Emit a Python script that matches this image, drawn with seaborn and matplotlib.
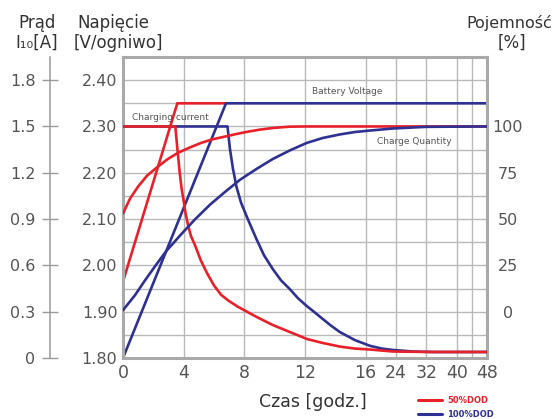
import numpy as np
import pandas as pd
import matplotlib
matplotlib.use("Agg")
import matplotlib.pyplot as plt
from matplotlib.lines import Line2D
import seaborn as sns

# ---------------- data ----------------
x_ticks = [0, 4, 8, 12, 16, 24, 32, 40, 48]
volt_ticks = [1.80, 1.90, 2.00, 2.10, 2.20, 2.30, 2.40]
cur_ticks = [0, 0.3, 0.6, 0.9, 1.2, 1.5, 1.8]
cur_labels = ["0", "0.3", "0.6", "0.9", "1.2", "1.5", "1.8"]
cap_ticks = [0, 25, 50, 75, 100]

# Battery voltage [V/cell]
red_volt_t = [0, 3.58, 6.8]
red_volt_v = [1.965, 2.35, 2.35]
blue_volt_t = [0, 6.79, 48]
blue_volt_v = [1.80, 2.35, 2.35]

# Charging current [A] - 50% DOD
red_cur_t = [0, 3.45, 3.59, 3.74, 3.86, 3.98, 4.12, 4.29, 4.48, 4.75, 5.14, 5.54,
             6.00, 6.46, 6.92, 7.52, 8.11, 8.83, 9.89, 11.01, 12.13, 13.18, 14.30,
             15.29, 17.13, 23.2, 33.0, 48]
red_cur_a = [1.50, 1.50, 1.35, 1.20, 1.10, 1.03, 0.94, 0.86, 0.79, 0.73, 0.63, 0.55,
             0.47, 0.41, 0.374, 0.335, 0.303, 0.265, 0.213, 0.168, 0.123, 0.097, 0.074,
             0.061, 0.055, 0.042, 0.039, 0.039]

# Charging current [A] - 100% DOD
blue_cur_t = [0, 6.89, 7.05, 7.25, 7.48, 7.78, 8.24, 8.81, 9.30, 9.89, 10.42, 11.01,
              11.54, 12.11, 12.66, 13.18, 13.71, 14.30, 15.29, 17.13, 20.29, 23.19,
              28.47, 33.74, 48]
blue_cur_a = [1.50, 1.50, 1.355, 1.226, 1.11, 1.007, 0.897, 0.768, 0.665, 0.574, 0.503,
              0.445, 0.387, 0.337, 0.294, 0.252, 0.210, 0.168, 0.116, 0.079, 0.061,
              0.052, 0.042, 0.039, 0.039]

# Charge quantity [%] - 50% DOD
red_cap_t = [0, 0.46, 0.99, 1.58, 2.31, 2.97, 3.63, 4.42, 5.14, 5.87, 6.70, 7.45,
             8.24, 9.03, 9.89, 11.01, 12.11, 48]
red_cap_p = [53.0, 61.0, 67.5, 73.4, 78.4, 82.5, 85.8, 88.7, 91.1, 93.0, 94.5, 95.9,
             97.2, 98.3, 99.2, 99.9, 100, 100]

# Charge quantity [%] - 100% DOD
blue_cap_t = [0, 0.79, 1.45, 2.11, 2.83, 3.76, 4.73, 5.74, 6.66, 7.71, 8.81, 9.89,
              11.01, 12.11, 13.18, 14.30, 15.29, 17.13, 23.19, 32.08, 48]
blue_cap_p = [0.8, 8.9, 16.9, 24.5, 32.5, 41.1, 49.7, 57.8, 64.2, 71.2, 77.1, 82.5,
              87.1, 91.1, 93.8, 95.7, 97.0, 97.8, 98.9, 99.8, 100]

RED = "#e8202a"
BLUE = "#2e3192"
GRID = "#b9b9b9"
FRAME = "#a9a9a9"
TXT = "#333333"
TICK = "#555555"

sns.set_style("white")
plt.rcParams["font.family"] = ["DejaVu Sans"]

W, H = 557, 419
fig = plt.figure(figsize=(W / 100, H / 100), dpi=100)


def px(x, y):
    return x / W, 1 - y / H


def fwd(t):
    t = np.asarray(t, dtype=float)
    return np.where(t <= 16, t, 16 + (t - 16) / 4.0)


def inv(u):
    u = np.asarray(u, dtype=float)
    return np.where(u <= 16, u, 16 + (u - 16) * 4.0)


ax = fig.add_axes([123 / W, 61 / H, 364 / W, 301 / H])
ax.set_xscale("function", functions=(fwd, inv))
ax.set_xlim(0, 48)
ax.set_ylim(1.80, 2.45)

ax_cur = ax.twinx()
ax_cap = ax.twinx()
ax_cur.set_ylim(0, 1.95)
ax_cap.set_ylim(-25, 137.5)

# grid on main axes
ax.set_xticks(x_ticks)
ax.set_xticklabels([str(v) for v in x_ticks])
ax.set_xticks([44], minor=True)
ax.set_yticks(volt_ticks)
ax.set_yticklabels([f"{v:.2f}" for v in volt_ticks])
ax.set_yticks([1.85, 1.95, 2.05, 2.15, 2.25, 2.35, 2.45], minor=True)
ax.grid(True, which="both", color=GRID, linewidth=1.0)
ax.set_axisbelow(True)
ax.tick_params(axis="both", which="both", length=0)
ax.tick_params(axis="y", pad=4, labelsize=11.5, labelcolor=TICK)
ax.tick_params(axis="x", pad=4, labelsize=12.5, labelcolor=TICK)
for s in ax.spines.values():
    s.set_visible(True)
    s.set_color(FRAME)
    s.set_linewidth(2.2)

LW = 1.9
# voltage lines
sns.lineplot(x=red_volt_t, y=red_volt_v, ax=ax, color=RED, linewidth=LW,
             estimator=None, sort=False, legend=False)
sns.lineplot(x=blue_volt_t, y=blue_volt_v, ax=ax, color=BLUE, linewidth=LW,
             estimator=None, sort=False, legend=False)

# current lines
sns.lineplot(x=blue_cur_t, y=blue_cur_a, ax=ax_cur, color=BLUE, linewidth=LW,
             estimator=None, sort=False, legend=False)
sns.lineplot(x=red_cur_t, y=red_cur_a, ax=ax_cur, color=RED, linewidth=LW,
             estimator=None, sort=False, legend=False)

# capacity lines
sns.lineplot(x=red_cap_t, y=red_cap_p, ax=ax_cap, color=RED, linewidth=LW,
             estimator=None, sort=False, legend=False)
sns.lineplot(x=blue_cap_t, y=blue_cap_p, ax=ax_cap, color=BLUE, linewidth=LW,
             estimator=None, sort=False, legend=False)

for line in ax.lines + ax_cur.lines + ax_cap.lines:
    line.set_solid_joinstyle("round")

ax_cur.set_ylim(0, 1.95)
ax_cap.set_ylim(-25, 137.5)
ax.set_xlim(0, 48)

# current axis (separate spine on the left)
for name, s in ax_cur.spines.items():
    s.set_visible(name == "left")
ax_cur.spines["left"].set_position(("axes", -73 / 364))
ax_cur.spines["left"].set_color("#9a9a9a")
ax_cur.spines["left"].set_linewidth(1.1)
ax_cur.yaxis.set_ticks_position("left")
ax_cur.set_yticks(cur_ticks)
ax_cur.set_yticklabels(cur_labels)
ax_cur.tick_params(axis="y", direction="inout", length=11, width=1.0,
                   color="#9a9a9a", pad=5, labelsize=11.5, labelcolor=TICK)

# capacity axis on the right
for s in ax_cap.spines.values():
    s.set_visible(False)
ax_cap.set_yticks(cap_ticks)
ax_cap.set_yticklabels([str(v) for v in cap_ticks])
ax_cap.tick_params(axis="y", length=0, pad=15, labelsize=11.5, labelcolor=TICK)
for lab in ax_cap.get_yticklabels():
    lab.set_horizontalalignment("center")

for a in (ax, ax_cur, ax_cap):
    a.set_xlabel("")
    a.set_ylabel("")

# headers
fig.text(*px(37, 23), "Prąd", ha="center", va="center", fontsize=12, color=TXT)
fig.text(*px(37, 43), "I₁₀[A]", ha="center", va="center", fontsize=12, color=TXT)
fig.text(*px(113, 23), "Napięcie", ha="center", va="center", fontsize=12, color=TXT)
fig.text(*px(118, 43), "[V/ogniwo]", ha="center", va="center", fontsize=12, color=TXT)
fig.text(*px(509, 23), "Pojemność", ha="center", va="center", fontsize=11.5, color=TXT)
fig.text(*px(512, 43), "[%]", ha="center", va="center", fontsize=12, color=TXT)
fig.text(*px(313, 402), "Czas [godz.]", ha="center", va="center", fontsize=12.5, color=TXT)

# in-plot annotations
fig.text(*px(347, 92), "Battery Voltage", ha="center", va="center", fontsize=6.5, color="#555555")
fig.text(*px(170, 117), "Charging current", ha="center", va="center", fontsize=6.5, color="#555555")
fig.text(*px(414, 141), "Charge Quantity", ha="center", va="center", fontsize=6.5, color="#555555")

# legend
handles = [Line2D([], [], color=RED, linewidth=2.2), Line2D([], [], color=BLUE, linewidth=2.2)]
leg = fig.legend(handles, ["50%DOD", "100%DOD"], loc="upper left",
                 bbox_to_anchor=px(418, 396), frameon=False, borderpad=0,
                 borderaxespad=0, handlelength=2.9, handletextpad=0.6,
                 labelspacing=0.6, prop={"size": 6, "weight": "bold"})
for t, c in zip(leg.get_texts(), [RED, BLUE]):
    t.set_color(c)

fig.savefig("out.png", dpi=100)
